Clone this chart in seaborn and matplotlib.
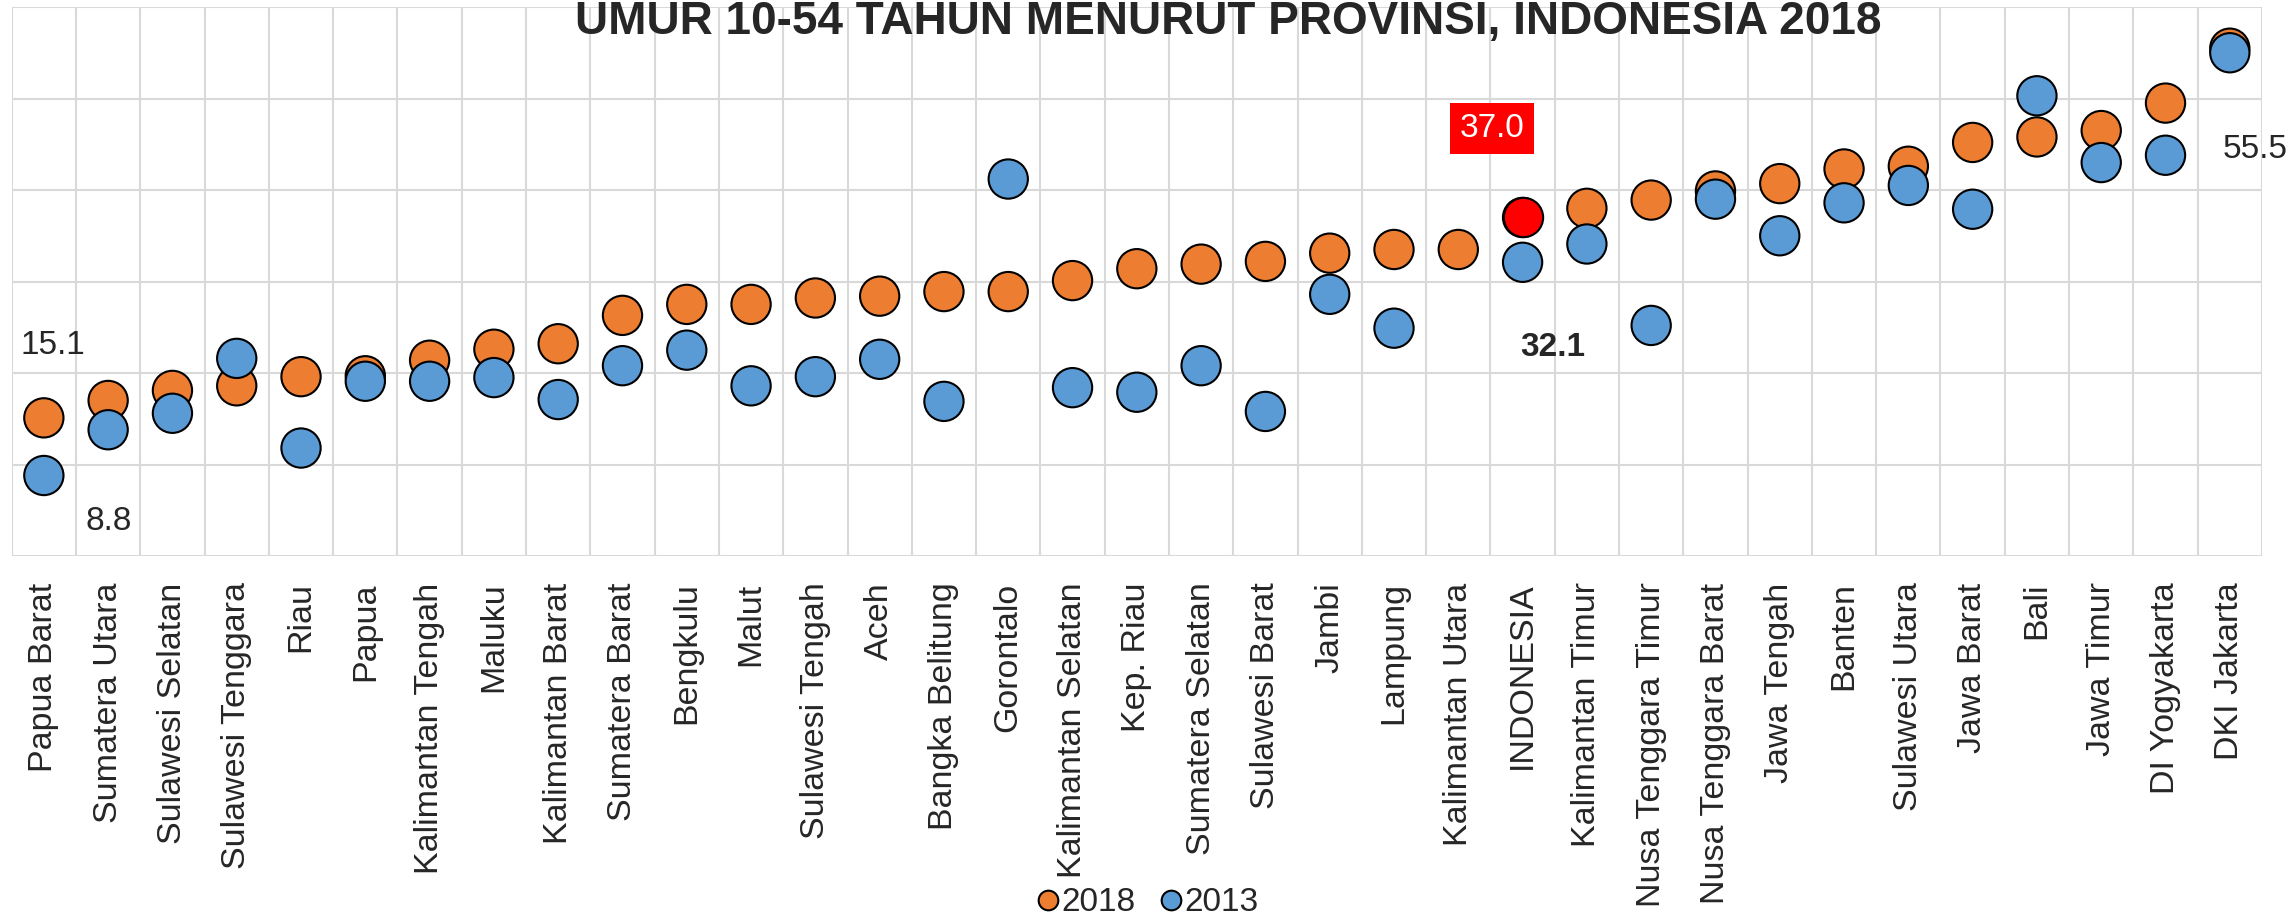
import numpy as np
import pandas as pd
import matplotlib
matplotlib.use("Agg")
import matplotlib.pyplot as plt
import seaborn as sns

# data
provinsi = ["Papua Barat", "Sumatera Utara", "Sulawesi Selatan", "Sulawesi Tenggara", "Riau",
            "Papua", "Kalimantan Tengah", "Maluku", "Kalimantan Barat", "Sumatera Barat",
            "Bengkulu", "Malut", "Sulawesi Tengah", "Aceh", "Bangka Belitung", "Gorontalo",
            "Kalimantan Selatan", "Kep. Riau", "Sumatera Selatan", "Sulawesi Barat", "Jambi",
            "Lampung", "Kalimantan Utara", "INDONESIA", "Kalimantan Timur", "Nusa Tenggara Timur",
            "Nusa Tenggara Barat", "Jawa Tengah", "Banten", "Sulawesi Utara", "Jawa Barat",
            "Bali", "Jawa Timur", "DI Yogyakarta", "DKI Jakarta"]
nilai_2018 = [15.1, 17.0, 18.1, 18.6, 19.6, 19.7, 21.4, 22.6, 23.2, 26.3,
              27.5, 27.5, 28.2, 28.4, 28.9, 28.9, 30.1, 31.4, 31.9, 32.2,
              33.1, 33.5, 33.5, 37.0, 38.0, 38.9, 39.9, 40.7, 42.3, 42.6,
              45.2, 45.8, 46.5, 49.5, 55.5]
nilai_2013 = [8.8, 13.8, 15.6, 21.6, 11.8, 19.1, 19.1, 19.5, 17.1, 20.8,
              22.5, 18.6, 19.6, 21.5, 16.9, 41.2, 18.4, 17.9, 20.8, 15.8,
              28.6, 24.9, np.nan, 32.1, 34.1, 25.2, 39.0, 35.0, 38.6, 40.5,
              37.9, 50.3, 43.0, 43.8, 55.0]
tahun = ["2018", "2013"]
warna = {"2018": "#ED7D31", "2013": "#5B9BD5"}

df = pd.concat([
    pd.DataFrame({"provinsi": provinsi, "nilai": nilai_2018, "tahun": "2018"}),
    pd.DataFrame({"provinsi": provinsi, "nilai": nilai_2013, "tahun": "2013"}),
], ignore_index=True)

sns.set_style("white")
plt.rcParams["font.family"] = ["Liberation Sans", "DejaVu Sans"]

fig = plt.figure(figsize=(22.95, 9.23), dpi=100)
ax = fig.add_axes([0.0051, 0.3976, 0.9805, 0.5948])

sns.scatterplot(data=df, x="provinsi", y="nilai", hue="tahun", hue_order=tahun,
                palette=warna, s=800, edgecolor="black", linewidth=1.5, ax=ax, zorder=3)

# INDONESIA 2018 highlighted in red
idx = provinsi.index("INDONESIA")
sns.scatterplot(x=[provinsi[idx]], y=[nilai_2018[idx]], color="#FF0000", s=800,
                edgecolor="black", linewidth=1.5, ax=ax, legend=False, zorder=4)

ax.set_xlim(-0.5, len(provinsi) - 0.5)
ax.set_ylim(0, 60)
ax.set_yticks(np.arange(0, 61, 10))
ax.set_yticklabels([])
ax.set_xticks(np.arange(-0.5, len(provinsi), 1), minor=True)
ax.grid(which="minor", axis="x", color="#D9D9D9", lw=1.5)
ax.grid(which="major", axis="y", color="#D9D9D9", lw=1.5)
ax.grid(which="major", axis="x", visible=False)
ax.set_axisbelow(True)
ax.tick_params(which="both", length=0)
ax.tick_params(axis="x", pad=19)
plt.setp(ax.get_xticklabels(), rotation=90, fontsize=24.5)
for sp in ax.spines.values():
    sp.set_visible(False)
ax.set_xlabel("")
ax.set_ylabel("")

# value labels
fs = 24
ax.annotate(f"{nilai_2018[0]:.1f}", (0, nilai_2018[0]), xytext=(6.5, 52), textcoords="offset points",
            ha="center", va="center", fontsize=fs)
ax.annotate(f"{nilai_2013[0]:.1f}", (0, nilai_2013[0]), xytext=(47, -33), textcoords="offset points",
            ha="center", va="center", fontsize=fs)
ax.annotate(f"{nilai_2018[-1]:.1f}", (len(provinsi) - 1, nilai_2018[-1]), xytext=(18, -73),
            textcoords="offset points", ha="center", va="center", fontsize=fs)
ax.annotate(f"{nilai_2018[idx]:.1f}", (idx, nilai_2018[idx]), xytext=(-22, 64), textcoords="offset points",
            ha="center", va="center", fontsize=fs, color="white",
            bbox=dict(boxstyle="square,pad=0.3", fc="#FF0000", ec="none"))
ax.annotate(f"{nilai_2013[idx]:.1f}", (idx, nilai_2013[idx]), xytext=(22, -61), textcoords="offset points",
            ha="center", va="center", fontsize=fs, fontweight="bold")

# legend at the bottom
handles, labels = ax.get_legend_handles_labels()
ax.get_legend().remove()
fig.legend(handles, labels, loc="center", bbox_to_anchor=(0.5, 0.022), ncol=2, frameon=False,
           markerscale=0.5, handlelength=0.7, handletextpad=0.05, columnspacing=0.7,
           prop={"size": 24})

fig.text(0.535, 0.963, "UMUR 10-54 TAHUN MENURUT PROVINSI, INDONESIA 2018", ha="center", va="baseline",
         fontsize=33, fontweight="bold")

fig.savefig("out.png", dpi=100)
